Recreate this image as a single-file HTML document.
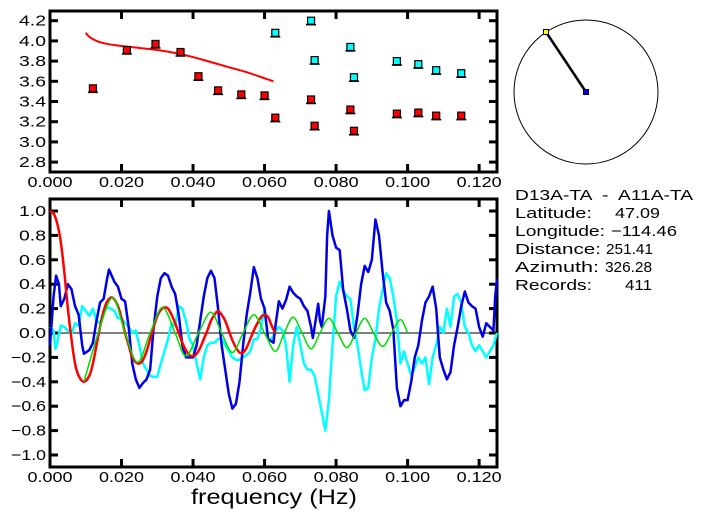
<!DOCTYPE html>
<html><head><meta charset="utf-8"><style>
html,body{margin:0;padding:0;background:#fff;}
svg{display:block;}
text{font-family:"Liberation Sans",sans-serif;}
.info{font-size:15px;}
</style></head><body>
<svg id="c" width="703" height="519" viewBox="0 0 703 519" xmlns="http://www.w3.org/2000/svg">
<g id="topPanel"></g>
<g id="botPanel"></g>
<g id="map">
 <circle cx="586" cy="92" r="72" fill="none" stroke="#000" stroke-width="1"/>
 <line x1="586" y1="92" x2="546" y2="32" stroke="#000" stroke-width="2.5"/>
 <rect x="543.5" y="29.5" width="5" height="5" fill="#ff0" stroke="#000"/>
 <rect x="583.5" y="89.5" width="5" height="5" fill="#00f" stroke="#000"/>
</g>
<g>
 <text class="info" x="515" y="200" textLength="178" lengthAdjust="spacingAndGlyphs" xml:space="preserve">D13A-TA  -  A11A-TA</text>
 <text class="info" x="515" y="218" textLength="77" lengthAdjust="spacingAndGlyphs">Latitude:</text>
 <text class="info" x="615" y="218" textLength="45" lengthAdjust="spacingAndGlyphs">47.09</text>
 <text class="info" x="515" y="236" textLength="90" lengthAdjust="spacingAndGlyphs">Longitude:</text>
 <text class="info" x="611" y="236" textLength="66" lengthAdjust="spacingAndGlyphs">−114.46</text>
 <text class="info" x="515" y="254" textLength="86" lengthAdjust="spacingAndGlyphs">Distance:</text>
 <text class="info" x="606" y="254" textLength="47" lengthAdjust="spacingAndGlyphs">251.41</text>
 <text class="info" x="515" y="272" textLength="84" lengthAdjust="spacingAndGlyphs">Azimuth:</text>
 <text class="info" x="605" y="272" textLength="47" lengthAdjust="spacingAndGlyphs">326.28</text>
 <text class="info" x="515" y="290" textLength="77" lengthAdjust="spacingAndGlyphs">Records:</text>
 <text class="info" x="625" y="290" textLength="27" lengthAdjust="spacingAndGlyphs">411</text>
</g>
</svg>
<script>
const xTicks=[0,0.02,0.04,0.06,0.08,0.10,0.12];
const xTickLabels=["0.000","0.020","0.040","0.060","0.080","0.100","0.120"];
const topYTicks=[2.8,3.0,3.2,3.4,3.6,3.8,4.0,4.2];
const botYTicks=[-1,-0.8,-0.6,-0.4,-0.2,0,0.2,0.4,0.6,0.8,1.0];
const redPtsF=[0.012,0.0215,0.0295,0.0365,0.0415,0.047,0.0535,0.060,0.063,0.073,0.074,0.084,0.085,0.097,0.103,0.108,0.115];
const redPtsV=[3.53,3.91,3.97,3.89,3.65,3.51,3.47,3.46,3.24,3.42,3.16,3.32,3.11,3.28,3.29,3.26,3.26];
const cyanPtsF=[0.063,0.073,0.074,0.084,0.085,0.097,0.103,0.108,0.115];
const cyanPtsV=[4.08,4.20,3.81,3.94,3.64,3.80,3.77,3.71,3.68];
const predF=[0.010,0.011,0.013,0.016,0.020,0.025,0.030,0.035,0.040,0.045,0.050,0.055,0.060,0.0625];
const predV=[4.08,4.04,4.00,3.97,3.95,3.93,3.91,3.88,3.84,3.79,3.74,3.69,3.63,3.60];
const blueF=[0,0.001,0.0017,0.0025,0.003,0.004,0.005,0.006,0.007,0.008,0.009,0.0095,0.011,0.012,0.013,0.014,0.015,0.016,0.0165,0.018,0.019,0.020,0.021,0.022,0.023,0.024,0.025,0.026,0.027,0.028,0.029,0.030,0.031,0.032,0.033,0.034,0.035,0.036,0.037,0.038,0.040,0.041,0.042,0.043,0.044,0.045,0.046,0.047,0.048,0.049,0.050,0.051,0.052,0.053,0.054,0.055,0.056,0.057,0.058,0.059,0.060,0.061,0.0625,0.063,0.064,0.065,0.066,0.067,0.068,0.069,0.070,0.071,0.072,0.073,0.0735,0.074,0.075,0.0755,0.076,0.077,0.0775,0.078,0.079,0.080,0.081,0.082,0.083,0.084,0.085,0.086,0.087,0.088,0.089,0.090,0.091,0.092,0.093,0.094,0.095,0.096,0.097,0.098,0.099,0.100,0.101,0.102,0.103,0.104,0.105,0.106,0.107,0.108,0.109,0.110,0.111,0.112,0.113,0.114,0.115,0.116,0.117,0.118,0.119,0.120,0.121,0.122,0.123,0.124,0.1245,0.125];
const blueV=[-0.10,0.30,0.47,0.40,0.22,0.28,0.40,0.36,0.22,0.15,-0.10,-0.17,-0.14,-0.08,0.10,0.25,0.28,0.45,0.52,0.42,0.38,0.28,0.26,0.05,-0.25,-0.38,-0.45,-0.41,-0.38,-0.30,0.05,0.30,0.45,0.49,0.47,0.38,0.32,0.15,-0.10,-0.20,-0.20,-0.10,0.10,0.30,0.45,0.51,0.45,0.20,-0.10,-0.30,-0.50,-0.62,-0.58,-0.40,-0.10,0.15,0.33,0.54,0.45,0.28,0.20,-0.05,-0.08,0.05,0.26,0.20,0.27,0.38,0.33,0.30,0.28,0.22,0.18,0.05,-0.04,0.05,0.24,0.10,0.05,0.30,0.80,1.00,0.80,0.70,0.68,0.35,0.20,0.02,-0.04,0.15,0.40,0.55,0.50,0.60,0.93,0.80,0.50,0.25,0.18,0.03,-0.45,-0.60,-0.55,-0.55,-0.40,-0.20,-0.10,0.10,0.25,0.30,0.38,0.20,-0.20,-0.30,-0.38,-0.32,-0.10,0.05,0.22,0.34,0.25,0.22,0.20,0.05,-0.03,0.08,0.05,0.02,0.30,0.44];
const cyanF=[0,0.001,0.0015,0.002,0.003,0.004,0.005,0.006,0.007,0.008,0.009,0.010,0.011,0.012,0.013,0.014,0.015,0.016,0.017,0.018,0.019,0.020,0.021,0.022,0.023,0.024,0.025,0.026,0.027,0.028,0.029,0.030,0.031,0.032,0.033,0.034,0.035,0.036,0.037,0.038,0.039,0.040,0.041,0.042,0.043,0.044,0.045,0.046,0.047,0.048,0.049,0.050,0.051,0.052,0.053,0.054,0.055,0.056,0.057,0.058,0.059,0.060,0.061,0.062,0.063,0.064,0.065,0.066,0.067,0.068,0.069,0.070,0.071,0.072,0.073,0.074,0.075,0.076,0.077,0.078,0.079,0.080,0.081,0.082,0.083,0.084,0.085,0.086,0.087,0.088,0.089,0.090,0.091,0.092,0.093,0.094,0.095,0.096,0.097,0.098,0.099,0.100,0.101,0.102,0.103,0.104,0.105,0.106,0.107,0.108,0.109,0.110,0.111,0.112,0.113,0.114,0.115,0.116,0.117,0.118,0.119,0.120,0.121,0.122,0.123,0.124,0.125];
const cyanV=[0.05,0.02,-0.13,-0.08,0.06,0.05,0.02,-0.01,0.08,0.06,0.22,0.18,0.14,0.20,0.10,0.08,0.18,0.21,0.20,0.18,0.12,0.12,0.08,0.05,0.00,0.02,-0.10,-0.25,-0.30,-0.35,-0.36,-0.36,-0.25,-0.15,-0.05,0.08,0.06,0.22,0.20,0.10,-0.05,-0.10,-0.25,-0.38,-0.20,-0.10,-0.08,-0.08,-0.05,-0.05,-0.10,-0.15,-0.20,-0.22,-0.22,-0.20,-0.18,-0.15,-0.05,-0.05,0.05,0.20,-0.05,-0.05,0.01,0.05,0.02,-0.10,-0.40,-0.10,0.05,-0.10,-0.25,-0.30,-0.30,-0.35,-0.50,-0.65,-0.80,-0.55,-0.10,0.30,0.42,0.35,0.30,0.28,0.05,-0.10,-0.30,-0.47,-0.45,-0.20,-0.05,0.20,0.35,0.49,0.45,0.30,0.10,-0.25,-0.15,-0.25,-0.35,-0.28,-0.20,-0.25,-0.20,-0.42,-0.20,-0.10,0.05,0.00,0.20,0.05,0.30,0.32,0.25,0.05,0.00,-0.10,-0.15,-0.10,-0.15,-0.20,-0.15,-0.10,0.00];
const redF=[0,0.001,0.002,0.003,0.004,0.005,0.006,0.007,0.008,0.0095,0.011,0.012,0.013,0.014,0.015,0.016,0.0175,0.019,0.020,0.021,0.022,0.023,0.024,0.025,0.026,0.027,0.028,0.029,0.030,0.031,0.032,0.033,0.034,0.035,0.036,0.037,0.038,0.039,0.040,0.041,0.042,0.043,0.044,0.045,0.046,0.047,0.048,0.049,0.050,0.051,0.052,0.053,0.054,0.055,0.056,0.057,0.058,0.059,0.060,0.061,0.062,0.063];
const redV=[1.0,0.98,0.9,0.75,0.5,0.2,-0.05,-0.25,-0.35,-0.40,-0.35,-0.25,-0.10,0.05,0.18,0.26,0.29,0.22,0.12,0.00,-0.10,-0.20,-0.24,-0.25,-0.22,-0.15,-0.05,0.05,0.14,0.19,0.21,0.20,0.15,0.08,0.00,-0.08,-0.14,-0.18,-0.19,-0.17,-0.12,-0.05,0.02,0.10,0.15,0.18,0.15,0.10,0.02,-0.06,-0.12,-0.16,-0.16,-0.12,-0.05,0.02,0.08,0.13,0.15,0.13,0.06,0.0];
const greenF=[0.0095,0.0135,0.0175,0.021,0.0245,0.028,0.0315,0.035,0.038,0.0415,0.045,0.048,0.051,0.054,0.057,0.060,0.063,0.0655,0.068,0.0705,0.073,0.0755,0.078,0.0805,0.083,0.0855,0.088,0.0905,0.093,0.0955,0.098,0.100];
const greenV=[-0.40,0.00,0.29,0.00,-0.24,0.00,0.21,0.00,-0.19,0.00,0.17,0.00,-0.16,0.00,0.15,0.00,-0.15,0.00,0.13,0.00,-0.13,0.00,0.12,0.00,-0.12,0.00,0.12,0.00,-0.11,0.00,0.11,0.00];

const NS="http://www.w3.org/2000/svg";
function mk(parent,tag,attrs){const e=document.createElementNS(NS,tag);for(const k in attrs)e.setAttribute(k,attrs[k]);parent.appendChild(e);return e;}
const X0=50,X1=497,XMAX=0.125;
function xs(f){return X0+f/XMAX*(X1-X0);}
function ytop(v){return 20.7+(4.2-v)/0.2*20.2;}
function ybot(v){return 333+(0-v)*122;}
function smooth(pts){let d="M"+pts[0][0]+","+pts[0][1];for(let i=0;i<pts.length-1;i++){const p0=pts[Math.max(0,i-1)],p1=pts[i],p2=pts[i+1],p3=pts[Math.min(pts.length-1,i+2)];d+=" C"+(p1[0]+(p2[0]-p0[0])/6)+","+(p1[1]+(p2[1]-p0[1])/6)+" "+(p2[0]-(p3[0]-p1[0])/6)+","+(p2[1]-(p3[1]-p1[1])/6)+" "+p2[0]+","+p2[1];}return d;}

function frame(g,y0,y1,yT,yfn,fmt,prefix){
  const r=mk(g,'rect',{x:X0,y:y0,width:X1-X0,height:y1-y0,fill:'none',stroke:'#000','stroke-width':3});
  
  
  xTicks.forEach((t,i)=>{const x=xs(t);
    const a=mk(g,'line',{x1:x,y1:y0,x2:x,y2:y0+8,stroke:'#000','stroke-width':3});
    
    
    const b=mk(g,'line',{x1:x,y1:y1,x2:x,y2:y1-8,stroke:'#000','stroke-width':3});
    
    
    const tx=mk(g,'text',{x:x-22.5,y:y1+15,'font-size':'15',textLength:45,lengthAdjust:'spacingAndGlyphs'});tx.textContent=xTickLabels[i];
    
    
  });
  yT.forEach(t=>{const y=yfn(t);
    const a=mk(g,'line',{x1:X0,y1:y,x2:X0+8,y2:y,stroke:'#000','stroke-width':3});
    
    
    const b=mk(g,'line',{x1:X1,y1:y,x2:X1-8,y2:y,stroke:'#000','stroke-width':3});
    
    
    const s=fmt(t);const w=s.length>3?35:27;
    const tx=mk(g,'text',{x:46-w,y:y+5,'font-size':'15',textLength:w,lengthAdjust:'spacingAndGlyphs'});tx.textContent=s;
    
    
  });
}
const topG=document.getElementById('topPanel'),botG=document.getElementById('botPanel');
frame(topG,11,172,topYTicks,ytop,t=>t.toFixed(1),'velocity');
frame(botG,199,467,botYTicks,ybot,t=>(t<0?'\u2212'+(-t).toFixed(1):t.toFixed(1)),'correlation');

const pl=mk(topG,'path',{d:smooth(predF.map((f,i)=>[xs(f),ytop(predV[i])])),fill:'none',stroke:'#f00','stroke-width':2});


function markers(F,V,col,name){F.forEach((f,i)=>{const x=xs(f),y=ytop(V[i]);
  const e=mk(topG,'line',{x1:x-5,y1:y+4,x2:x+5,y2:y+4,stroke:'#000','stroke-width':1.5});
  
  
  const r=mk(topG,'rect',{x:x-3.5,y:y-3.5,width:7,height:7,fill:col,stroke:'#000','stroke-width':1.2});
  
  
});}
markers(redPtsF,redPtsV,'#f00','group-velocity-point');
markers(cyanPtsF,cyanPtsV,'#0ff','phase-velocity-point');

const z=mk(botG,'line',{x1:X0,y1:ybot(0),x2:X1,y2:ybot(0),stroke:'#000','stroke-width':1});


const cy=mk(botG,'polyline',{points:cyanF.map((f,i)=>xs(f)+','+ybot(cyanV[i])).join(' '),fill:'none',stroke:'#0ff','stroke-width':2.5,'stroke-linejoin':'round'});


const bl=mk(botG,'polyline',{points:blueF.map((f,i)=>xs(f)+','+ybot(blueV[i])).join(' '),fill:'none',stroke:'#0000e6','stroke-width':2.5,'stroke-linejoin':'round'});


const rd=mk(botG,'path',{d:smooth(redF.map((f,i)=>[xs(f),ybot(redV[i])])),fill:'none',stroke:'#f00','stroke-width':2.5});


const gr=mk(botG,'path',{d:smooth(greenF.map((f,i)=>[xs(f),ybot(greenV[i])])),fill:'none',stroke:'#0d0','stroke-width':1.5});


const xl=mk(botG,'text',{x:191,y:504,'font-size':'21',textLength:166,lengthAdjust:'spacingAndGlyphs'});xl.textContent='frequency (Hz)';


</script>
</body></html>
